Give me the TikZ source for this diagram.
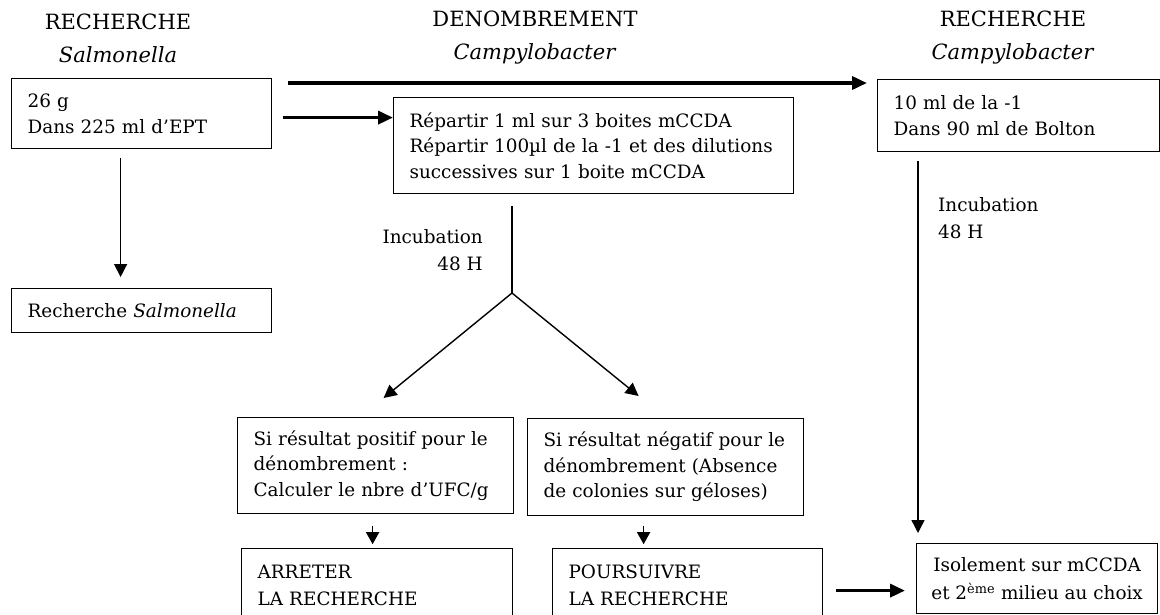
\documentclass[tikz,border=0pt]{standalone}
\usepackage{fontspec}
\setmainfont{DejaVu Serif}
\usetikzlibrary{arrows.meta}

\begin{document}
\begin{tikzpicture}[x=1pt,y=-1pt,
  every node/.style={font=\fontsize{18.4}{25.5}\selectfont},
  boite/.style 2 args={draw, line width=1.2pt, anchor=north west, align=left,
    inner xsep=16pt, inner ysep=0pt, text width=#1, minimum height=#2},
  boitec/.style 2 args={draw, line width=1.2pt, anchor=north west, align=center,
    inner sep=0pt, minimum width=#1, minimum height=#2},
  titre/.style={align=center, font=\fontsize{21}{33}\selectfont},
  incub/.style={inner sep=0pt, font=\fontsize{18.4}{27}\selectfont},
  trait/.style={line width=1.4pt},
  fleche/.style={trait, -{Triangle[length=13pt,width=13pt]}},
  petite/.style={line width=1.6pt, -{Triangle[length=12pt,width=13pt]}},
  grosse/.style={line width=3.6pt, -{Triangle[length=15pt,width=13pt]}}]
  \useasboundingbox (0,0) rectangle (1160,614);
  % titres
  \node[titre] (tsalm) at (118,38) {RECHERCHE\\\textit{Salmonella}};
  \node[titre] (tdenom) at (535,38) {DENOMBREMENT\\\textit{Campylobacter}};
  \node[titre] (tcampy) at (1013,38) {RECHERCHE\\\textit{Campylobacter}};
  % boites
  \node[boite={228pt}{70pt}] (echant) at (11,78) {26 g\\Dans 225 ml d’EPT};
  \node[boite={368pt}{96pt}] (repart) at (393,97)
    {Répartir 1 ml sur 3 boites mCCDA\\Répartir 100µl de la -1 et des dilutions\\successives sur 1 boite mCCDA};
  \node[boite={250pt}{72pt}] (bolton) at (877,79) {10 ml de la -1\\Dans 90 ml de Bolton};
  \node[boite={228pt}{44pt}] (salm) at (11,288) {Recherche \textit{Salmonella}};
  \node[boite={244pt}{96pt}] (positif) at (237,417)
    {Si résultat positif pour le\\dénombrement :\\Calculer le nbre d’UFC/g};
  \node[boite={244pt}{97pt}] (negatif) at (527,418)
    {Si résultat négatif pour le\\dénombrement (Absence\\de colonies sur géloses)};
  \node[boite={239pt}{74pt}, font=\fontsize{18.4}{27}\selectfont] (arret) at (241,548) {ARRETER\\LA RECHERCHE};
  \node[boite={238pt}{74pt}, font=\fontsize{18.4}{27}\selectfont] (suite) at (552,548) {POURSUIVRE\\LA RECHERCHE};
  \node[boitec={241pt}{70pt}, font=\fontsize{18.4}{28}\selectfont] (isol) at (916,543)
    {Isolement sur mCCDA\\et 2\textsuperscript{ème} milieu au choix};
  % incubations
  \node[incub, anchor=east, align=right] (incub1) at (483,250) {Incubation\\48 H};
  \node[incub, anchor=west, align=left] (incub2) at (938,218) {Incubation\\48 H};
  % fleches
  \draw[grosse] ([xshift=16pt,yshift=-5pt]echant.north east) -- ([xshift=-10pt,yshift=-4pt]bolton.north west);
  \draw[grosse] ([xshift=11pt,yshift=-4pt]echant.east) coordinate (ab) -- (ab -| repart.west);
  \draw[fleche] ([xshift=-21pt,yshift=-9pt]echant.south) -- ([xshift=-21pt,yshift=11pt]salm.north);
  \coordinate (fourche) at (512,293);
  \draw[trait] ([yshift=-12pt]repart.south -| fourche) -- (fourche);
  \draw[fleche] (fourche) -- ([xshift=8pt,yshift=19pt]positif.north);
  \draw[fleche] (fourche) -- ([xshift=-27pt,yshift=22pt]negatif.north);
  \draw[fleche] ([xshift=41pt,yshift=-9pt]bolton.south west) -- ([xshift=2pt,yshift=10pt]isol.north west);
  \draw[petite] ([xshift=-3pt,yshift=-12pt]positif.south) -- ++(0,18);
  \draw[petite] ([xshift=-22pt,yshift=-10pt]negatif.south) -- ++(0,18);
  \draw[grosse] ([xshift=13pt,yshift=-5pt]suite.east) -- ([xshift=-11pt,yshift=-12pt]isol.west);
\end{tikzpicture}
\end{document}
